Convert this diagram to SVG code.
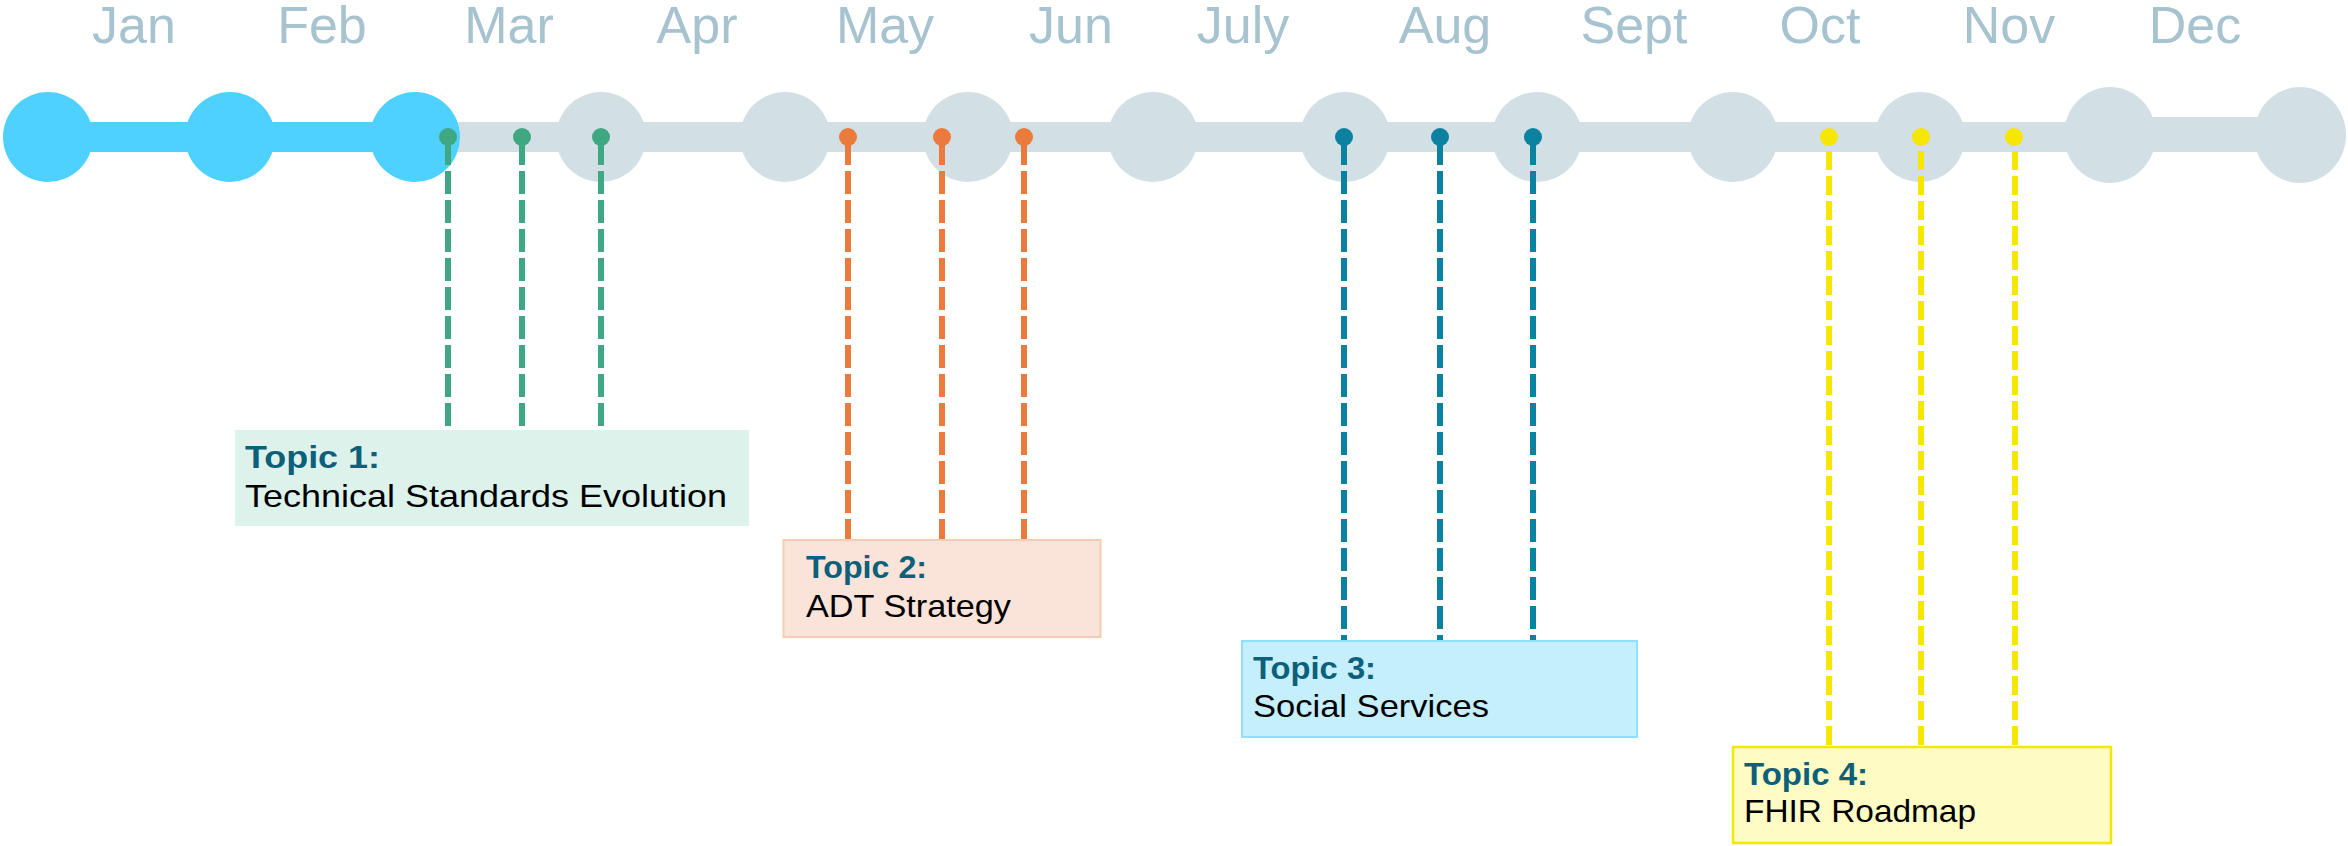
<svg xmlns="http://www.w3.org/2000/svg" width="2348" height="846" viewBox="0 0 2348 846">
<style>
.month{font-family:"Liberation Sans",Arial,sans-serif;font-size:52px;fill:#a6c3cf;text-anchor:middle}
.ttl{font-family:"Liberation Sans",Arial,sans-serif;font-size:32px;font-weight:bold;fill:#0c6079}
.sub{font-family:"Liberation Sans",Arial,sans-serif;font-size:32px;fill:#000}
.done{fill:#4fd1ff}
.todo{fill:#d2dfe5}
.conn{fill:none;stroke-width:6;stroke-dasharray:23 6}
.connY{fill:none;stroke-width:6;stroke-dasharray:19 6}
</style>
<rect width="2348" height="846" fill="#fff"/>
<g id="months">
<text class="month" x="134" y="43">Jan</text>
<text class="month" x="322" y="43">Feb</text>
<text class="month" x="509" y="43">Mar</text>
<text class="month" x="697" y="43">Apr</text>
<text class="month" x="885" y="43">May</text>
<text class="month" x="1071" y="43">Jun</text>
<text class="month" x="1243" y="43">July</text>
<text class="month" x="1445" y="43">Aug</text>
<text class="month" x="1634" y="43">Sept</text>
<text class="month" x="1820" y="43">Oct</text>
<text class="month" x="2009" y="43">Nov</text>
<text class="month" x="2195" y="43">Dec</text>
</g>
<g id="timeline">
<rect class="todo" x="415" y="122" width="1700" height="30"/>
<rect class="todo" x="2105" y="117" width="195" height="35"/>
<rect class="done" x="48" y="122" width="367" height="30"/>
<circle class="done" cx="48" cy="137" r="45"/>
<circle class="done" cx="230" cy="137" r="45"/>
<circle class="done" cx="415" cy="137" r="45"/>
<circle class="todo" cx="601" cy="137" r="45"/>
<circle class="todo" cx="785" cy="137" r="45"/>
<circle class="todo" cx="968" cy="137" r="45"/>
<circle class="todo" cx="1153" cy="137" r="45"/>
<circle class="todo" cx="1345" cy="137" r="45"/>
<circle class="todo" cx="1537" cy="137" r="45"/>
<circle class="todo" cx="1733" cy="137" r="45"/>
<circle class="todo" cx="1920" cy="137" r="45"/>
<ellipse class="todo" cx="2110" cy="135" rx="46" ry="48"/>
<ellipse class="todo" cx="2300" cy="135" rx="46" ry="48"/>
</g>
<g id="connectors">
<path class="conn" stroke="#3fa882" d="M448 142V430M522 142V430M601 142V430"/>
<path class="conn" stroke="#ec7a3c" d="M848 142V540M942 142V540M1024 142V540"/>
<path class="conn" stroke="#0a82a0" d="M1344 142V641M1440 142V641M1533 142V641"/>
<path class="connY" stroke="#f7e600" d="M1829 151V746M1921 151V746M2015 151V746"/>
</g>
<g id="dots">
<g fill="#3fa882"><circle cx="448" cy="137" r="9"/><circle cx="522" cy="137" r="9"/><circle cx="601" cy="137" r="9"/></g>
<g fill="#ec7a3c"><circle cx="848" cy="137" r="9"/><circle cx="942" cy="137" r="9"/><circle cx="1024" cy="137" r="9"/></g>
<g fill="#0a82a0"><circle cx="1344" cy="137" r="9"/><circle cx="1440" cy="137" r="9"/><circle cx="1533" cy="137" r="9"/></g>
<g fill="#f7e600"><circle cx="1829" cy="137" r="9"/><circle cx="1921" cy="137" r="9"/><circle cx="2014" cy="137" r="9"/></g>
</g>
<g id="topic1">
<rect x="235" y="430" width="514" height="96" fill="#dcf2eb"/>
<text class="ttl" x="245" y="468" textLength="135" lengthAdjust="spacingAndGlyphs">Topic 1:</text>
<text class="sub" x="245" y="507" textLength="482" lengthAdjust="spacingAndGlyphs">Technical Standards Evolution</text>
</g>
<g id="topic2">
<rect x="783.5" y="540" width="317" height="97" fill="#fae3d8" stroke="#f7cbb2" stroke-width="2"/>
<text class="ttl" x="806" y="578" textLength="121" lengthAdjust="spacingAndGlyphs">Topic 2:</text>
<text class="sub" x="806" y="617" textLength="205" lengthAdjust="spacingAndGlyphs">ADT Strategy</text>
</g>
<g id="topic3">
<rect x="1242" y="641" width="395" height="96" fill="#c5effd" stroke="#8ee0fb" stroke-width="2"/>
<text class="ttl" x="1253" y="679" textLength="123" lengthAdjust="spacingAndGlyphs">Topic 3:</text>
<text class="sub" x="1253" y="717" textLength="236" lengthAdjust="spacingAndGlyphs">Social Services</text>
</g>
<g id="topic4">
<rect x="1733" y="747" width="378" height="96" fill="#fffbc4" stroke="#f5e800" stroke-width="2.5"/>
<text class="ttl" x="1744" y="785" textLength="124" lengthAdjust="spacingAndGlyphs">Topic 4:</text>
<text class="sub" x="1744" y="822" textLength="232" lengthAdjust="spacingAndGlyphs">FHIR Roadmap</text>
</g>
</svg>
